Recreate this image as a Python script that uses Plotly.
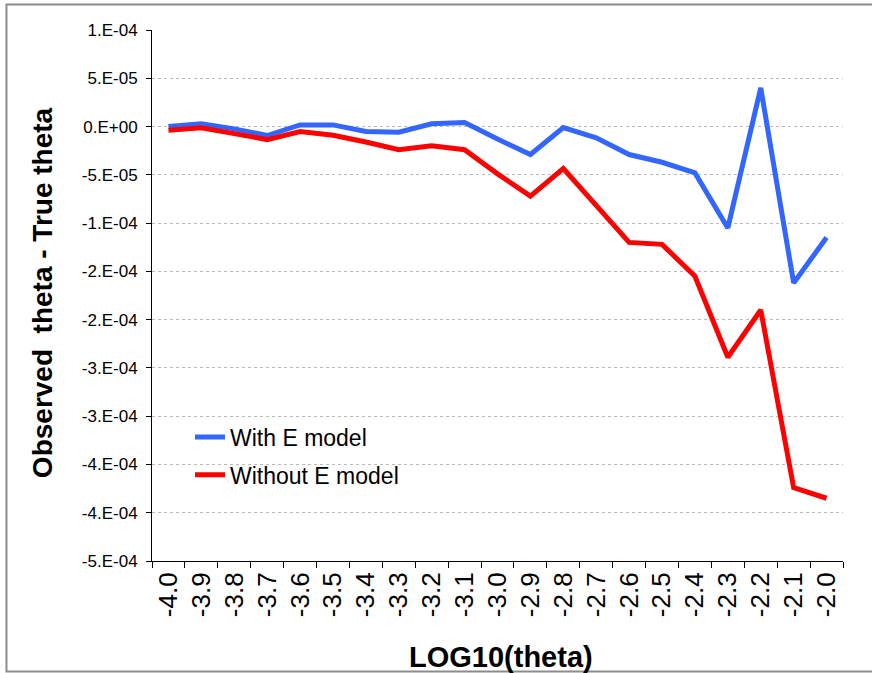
import plotly.graph_objects as go

categories = ["-4.0", "-3.9", "-3.8", "-3.7", "-3.6", "-3.5", "-3.4", "-3.3", "-3.2", "-3.1", "-3.0",
              "-2.9", "-2.8", "-2.7", "-2.6", "-2.5", "-2.4", "-2.3", "-2.2", "-2.1", "-2.0"]

with_e_model = [0.0, 3e-6, -2.4e-6, -9.3e-6, 1.7e-6, 1.7e-6, -5.2e-6, -5.9e-6, 2.8e-6, 4.1e-6, -1.3e-5,
                -2.9e-5, -1e-6, -1.17e-5, -2.9e-5, -3.7e-5, -4.8e-5, -1.05e-4, 4.0e-5, -1.62e-4, -1.15e-4]

without_e_model = [-3.8e-6, -1.3e-6, -7.3e-6, -1.35e-5, -5.2e-6, -9e-6, -1.6e-5, -2.4e-5, -2.0e-5, -2.4e-5, -4.9e-5,
                   -7.2e-5, -4.35e-5, -8.15e-5, -1.2e-4, -1.22e-4, -1.55e-4, -2.39e-4, -1.9e-4, -3.74e-4, -3.85e-4]

y_tickvals = [1e-4, 5e-5, 0.0, -5e-5, -1e-4, -1.5e-4, -2e-4, -2.5e-4, -3e-4, -3.5e-4, -4e-4, -4.5e-4]
y_ticktext = ["1.E-04", "5.E-05", "0.E+00", "-5.E-05", "-1.E-04", "-2.E-04", "-2.E-04",
              "-3.E-04", "-3.E-04", "-4.E-04", "-4.E-04", "-5.E-04"]

FONT = "Arial, Liberation Sans, sans-serif"

fig = go.Figure()
fig.add_trace(go.Scatter(x=categories, y=with_e_model, mode="lines", name="With E model",
                         legendgroup="a", line=dict(color="#3366FF", width=5)))
fig.add_trace(go.Scatter(x=categories, y=without_e_model, mode="lines", name="Without E model",
                         legendgroup="b", line=dict(color="#FF0000", width=5)))

fig.update_layout(
    width=872, height=673,
    margin=dict(l=152, r=29, t=30, b=112),
    paper_bgcolor="white", plot_bgcolor="white",
    font=dict(family=FONT, color="black"),
    showlegend=True,
    legend=dict(x=0.055, y=0.274, xanchor="left", yanchor="top", traceorder="grouped",
                font=dict(size=23, family=FONT), bgcolor="rgba(0,0,0,0)",
                itemwidth=30, tracegroupgap=5),
    xaxis=dict(type="category", tickangle=-90, tickson="boundaries",
               ticks="outside", ticklen=6, tickcolor="black", tickwidth=1,
               showline=True, linecolor="black", linewidth=1,
               showgrid=False, tickfont=dict(size=26, family=FONT),
               range=[-0.5, 20.5]),
    yaxis=dict(range=[-4.5e-4, 1e-4], tickvals=y_tickvals, ticktext=y_ticktext,
               ticks="outside", ticklen=5, tickcolor="black", tickwidth=1,
               showline=True, linecolor="black", linewidth=1,
               showgrid=True, gridcolor="#BBBBBB", griddash="dot", gridwidth=1,
               zeroline=False, tickfont=dict(size=17, family=FONT), ticklabelstandoff=5),
    annotations=[
        dict(text="<b>Observed\u00a0 theta - True theta</b>", x=-0.159, y=0.5047, xref="paper", yref="paper",
             textangle=-90, showarrow=False, xanchor="center", yanchor="middle",
             font=dict(size=28, family=FONT, color="black")),
        dict(text="<b>LOG10(theta)</b>", x=0.505, y=-0.1808, xref="paper", yref="paper",
             showarrow=False, xanchor="center", yanchor="middle",
             font=dict(size=29, family=FONT, color="black")),
    ],
    shapes=[dict(type="rect", xref="paper", yref="paper", x0=-0.2106, x1=1.0434, y0=-0.2081, y1=1.048,
                 line=dict(color="#8C8C8C", width=2), fillcolor="rgba(0,0,0,0)", layer="below")],
)

fig.write_html("out.html", config={"displayModeBar": False},
               post_script="document.body.style.margin='0px';")
